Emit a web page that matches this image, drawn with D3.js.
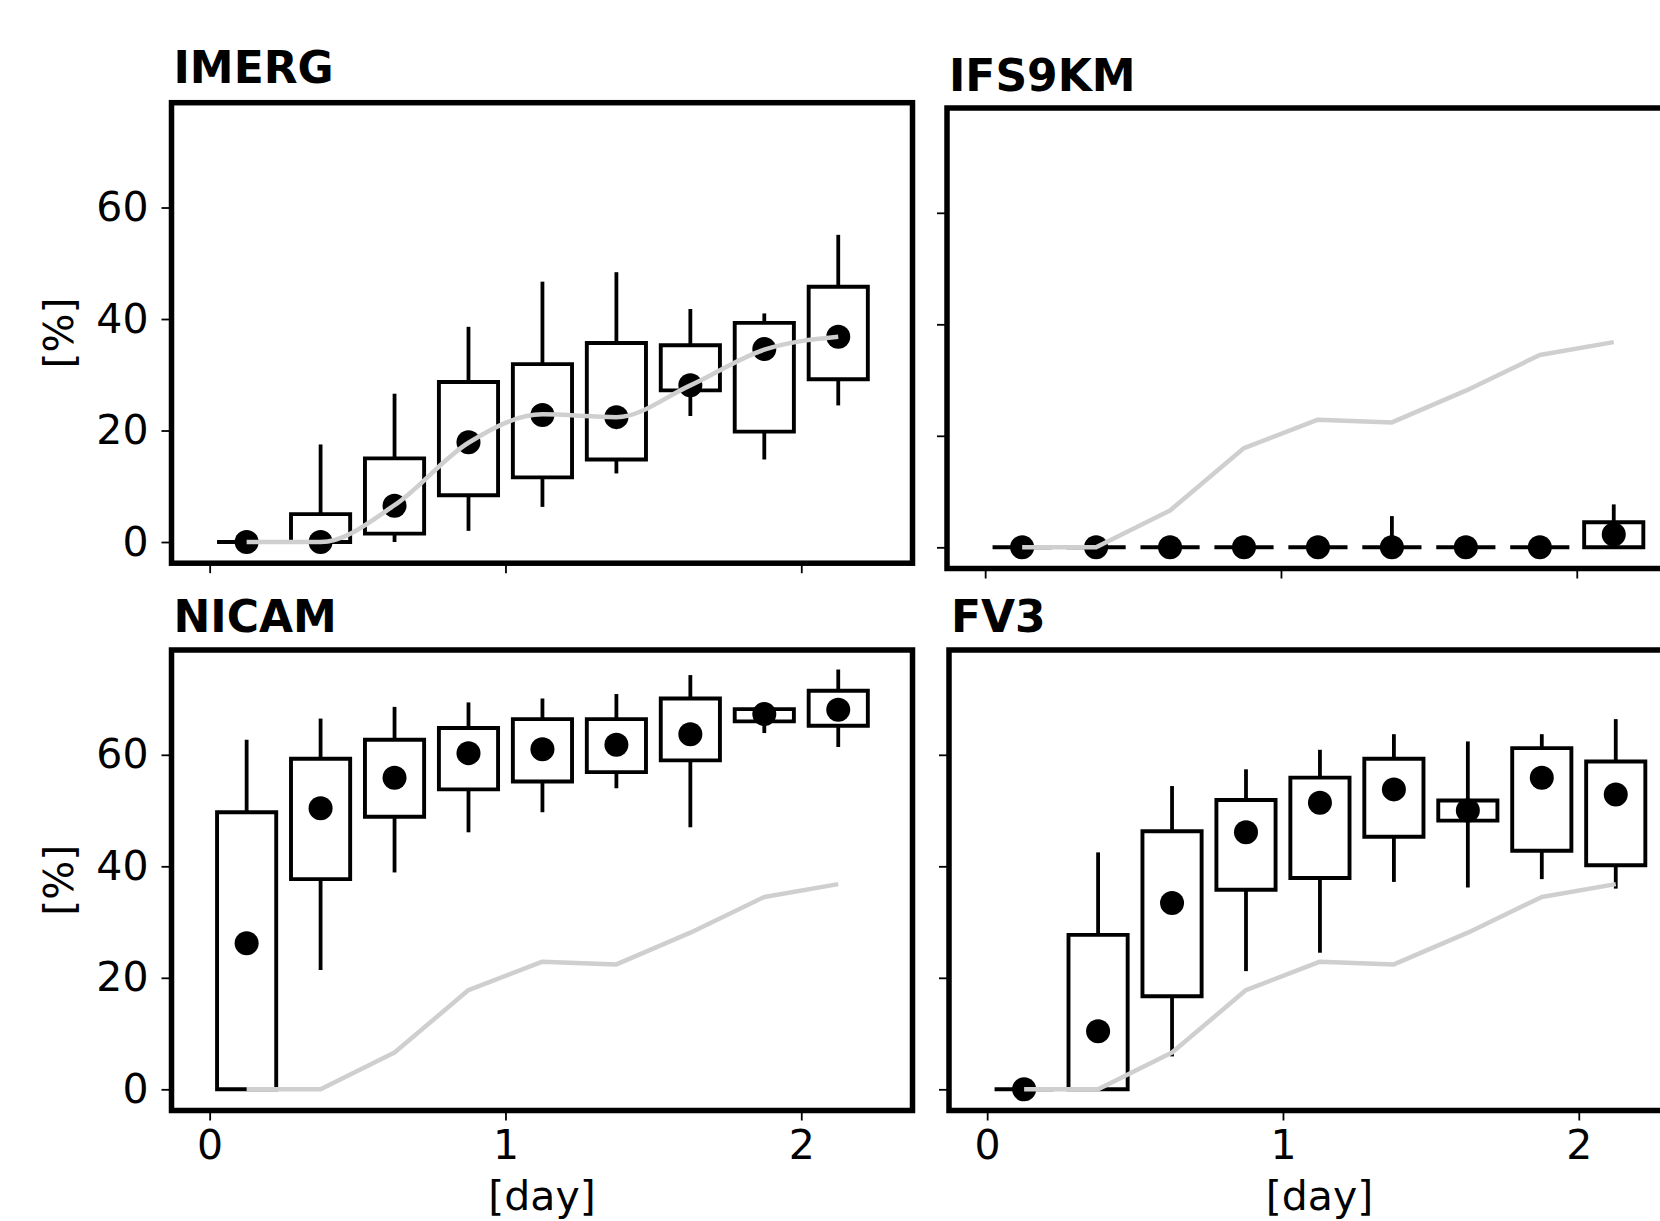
<!DOCTYPE html>
<html>
<head>
<meta charset="utf-8">
<script src="https://cdn.jsdelivr.net/npm/d3@7"></script>
<style>
  body { margin: 0; background: #fff; }
  svg text { font-family: "DejaVu Sans", sans-serif; }
</style>
</head>
<body>
<svg id="chart" width="1660" height="1221"></svg>
<script>
// bin centres in days (3-hourly bins)
const days = [0.125, 0.375, 0.625, 0.875, 1.125, 1.375, 1.625, 1.875, 2.125]

// grey reference line (IMERG) drawn in every panel
const imergRef = [0, 0, 6.6, 17.8, 22.9, 22.4, 28.1, 34.5, 36.8]

// IMERG
const imergQ1  = [0, 0, 1.5, 8.4, 11.6, 14.8, 27.2, 19.8, 29.2]
const imergQ3  = [0, 5, 15, 28.7, 31.9, 35.7, 35.3, 39.3, 45.8]
const imergLo  = [0, 0, 0, 2, 6.3, 12.3, 22.6, 14.8, 24.5]
const imergHi  = [0, 17.5, 26.6, 38.6, 46.7, 48.4, 41.8, 41, 55.1]
const imergDot = [0, 0, 6.5, 17.9, 22.8, 22.4, 28.1, 34.6, 36.8]

// IFS9KM
const ifsQ1  = [0, 0, 0, 0, 0, 0, 0, 0, 0]
const ifsQ3  = [0, 0, 0, 0, 0, 0, 0, 0, 4.5]
const ifsLo  = [0, 0, 0, 0, 0, 0, 0, 0, 0]
const ifsHi  = [0, 0, 0, 0, 0, 5.6, 0, 0, 7.7]
const ifsDot = [0, 0, 0, 0, 0, 0, 0, 0, 2.3]

// NICAM
const nicamQ1  = [0, 37.7, 48.9, 53.8, 55.2, 56.9, 59, 66, 65.2]
const nicamQ3  = [49.7, 59.3, 62.7, 64.8, 66.4, 66.4, 70.1, 68.2, 71.5]
const nicamLo  = [0, 21.4, 38.9, 46.1, 49.7, 54, 47, 63.9, 61.4]
const nicamHi  = [62.7, 66.5, 68.6, 69.4, 70.1, 70.9, 74.3, 69, 75.3]
const nicamDot = [26.2, 50.4, 55.9, 60.3, 61, 61.8, 63.7, 67.3, 68.1]

// FV3
const fv3Q1  = [0, 0, 16.7, 35.8, 37.9, 45.3, 48.2, 42.8, 40.2]
const fv3Q3  = [0, 27.7, 46.3, 51.9, 55.9, 59.3, 51.8, 61.2, 58.8]
const fv3Lo  = [0, 0, 5.9, 21.2, 24.5, 37.2, 36.2, 37.7, 36]
const fv3Hi  = [0, 42.5, 54.4, 57.4, 60.9, 63.7, 62.4, 63.7, 66.4]
const fv3Dot = [0, 10.4, 33.4, 46.1, 51.4, 53.8, 50, 55.9, 52.9]

const yTicks = [0, 20, 40, 60]
const xTicks = [0, 1, 2]

const W = 741, H = 460.5
const panels = [
  {title: 'IMERG',  left: 171.5, top: 102.7, ty: -20,   q1: imergQ1, q3: imergQ3, lo: imergLo, hi: imergHi, dot: imergDot, ylab: true,  xlab: false, smooth: true},
  {title: 'IFS9KM', left: 947,   top: 108,   ty: -17.5, q1: ifsQ1,   q3: ifsQ3,   lo: ifsLo,   hi: ifsHi,   dot: ifsDot,   ylab: false, xlab: false},
  {title: 'NICAM',  left: 171.5, top: 650,   ty: -18,   q1: nicamQ1, q3: nicamQ3, lo: nicamLo, hi: nicamHi, dot: nicamDot, ylab: true,  xlab: true},
  {title: 'FV3',    left: 949,   top: 650,   ty: -18,   q1: fv3Q1,   q3: fv3Q3,   lo: fv3Lo,   hi: fv3Hi,   dot: fv3Dot,   ylab: false, xlab: true},
]

const svg = d3.select('#chart')
svg.append('rect').attr('width', 1660).attr('height', 1221).attr('fill', '#fff')

const boxW = 0.2

panels.forEach(p => {
  const g = svg.append('g').attr('transform', `translate(${p.left},${p.top})`)
  const x = d3.scaleLinear().domain([-0.129, 2.376]).range([0, W])
  const y = d3.scaleLinear().domain([-3.8, 78.8]).range([H, 0])

  // axes (ticks outside the frame)
  const ya = g.append('g')
    .call(d3.axisLeft(y).tickValues(yTicks).tickSize(10).tickPadding(13)
      .tickFormat(p.ylab ? d3.format('d') : () => ''))
  const xa = g.append('g').attr('transform', `translate(0,${H})`)
    .call(d3.axisBottom(x).tickValues(xTicks).tickSize(10).tickPadding(9)
      .tickFormat(p.xlab ? d3.format('d') : () => ''))
  ;[ya, xa].forEach(a => {
    a.select('.domain').remove()
    a.selectAll('line').attr('stroke', '#000').attr('stroke-width', 1.8)
    a.selectAll('text').attr('fill', '#000').style('font-size', '41px')
  })

  const idx = d3.range(days.length)

  // whiskers
  g.selectAll('.wup').data(idx).enter().append('line')
    .attr('x1', i => x(days[i])).attr('x2', i => x(days[i]))
    .attr('y1', i => y(p.q3[i])).attr('y2', i => y(p.hi[i]))
    .attr('stroke', '#000').attr('stroke-width', 3.8)
  g.selectAll('.wdn').data(idx).enter().append('line')
    .attr('x1', i => x(days[i])).attr('x2', i => x(days[i]))
    .attr('y1', i => y(p.q1[i])).attr('y2', i => y(p.lo[i]))
    .attr('stroke', '#000').attr('stroke-width', 3.8)

  // boxes (paths so that flat boxes still show as a line)
  g.selectAll('.box').data(idx).enter().append('path')
    .attr('d', i => {
      const x0 = x(days[i] - boxW / 2), x1 = x(days[i] + boxW / 2)
      return `M${x0},${y(p.q1[i])}H${x1}V${y(p.q3[i])}H${x0}Z`
    })
    .attr('fill', 'none').attr('stroke', '#000').attr('stroke-width', 3.9)
    .attr('stroke-linejoin', 'miter')

  // dots
  g.selectAll('.dot').data(idx).enter().append('circle')
    .attr('cx', i => x(days[i])).attr('cy', i => y(p.dot[i]))
    .attr('r', 12).attr('fill', '#000')

  // grey IMERG reference
  const line = d3.line().x(i => x(days[i])).y(i => y(imergRef[i]))
  if (p.smooth) line.curve(d3.curveMonotoneX)
  g.append('path').datum(idx).attr('d', line)
    .attr('fill', 'none').attr('stroke', '#cfcfcf').attr('stroke-width', 4.5)
    .attr('stroke-linejoin', 'round')

  // frame
  g.append('rect').attr('width', W).attr('height', H)
    .attr('fill', 'none').attr('stroke', '#000').attr('stroke-width', 5.5)

  // title
  g.append('text').attr('x', 2).attr('y', p.ty)
    .attr('font-weight', 'bold').style('font-size', '44px').attr('fill', '#000')
    .text(p.title)

  if (p.ylab) {
    g.append('text')
      .attr('transform', `translate(${-99},${H / 2}) rotate(-90)`)
      .attr('text-anchor', 'middle').style('font-size', '41px').attr('fill', '#000')
      .text('[%]')
  }
  if (p.xlab) {
    g.append('text').attr('x', W / 2).attr('y', H + 99)
      .attr('text-anchor', 'middle').style('font-size', '41px').attr('fill', '#000')
      .text('[day]')
  }
})
</script>
</body>
</html>
